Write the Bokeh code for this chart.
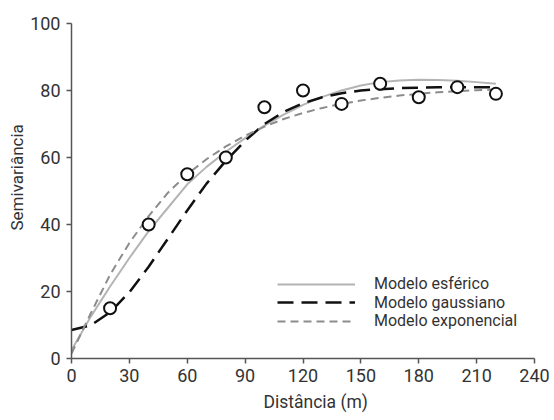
from bokeh.plotting import figure
from bokeh.models import Range1d, FixedTicker, Legend, LegendItem, Title
from bokeh.embed import file_html
from bokeh.resources import INLINE

# Observed semivariance
dist = [20, 40, 60, 80, 100, 120, 140, 160, 180, 200, 220]
semivar = [15, 40, 55, 60, 75, 80, 76, 82, 78, 81, 79]

# Model curves
curve_x = [0, 10, 20, 30, 40, 50, 60, 70, 80, 90, 100, 110, 120, 130, 140, 150,
           160, 170, 180, 190, 200, 210, 220]
spherical = [2.5, 12.5, 21.5, 30, 38, 45, 52, 57.2, 61.7, 65.8, 69.5, 72.8, 75.7,
             78.1, 80.0, 81.5, 82.5, 83.0, 83.2, 83.1, 82.9, 82.5, 82.0]
gaussian = [8.5, 9.9, 13.8, 19.8, 27.4, 35.8, 44.2, 52.2, 59.0, 65.0, 70.0, 73.6,
            76.2, 78.0, 79.2, 80.0, 80.4, 80.7, 80.8, 81.0, 81.0, 81.0, 81.0]
exponential = [1.5, 13.5, 25, 34.5, 42.5, 49.5, 55, 59.5, 63.3, 66.5, 69.2, 71.5,
               73.3, 74.8, 76, 77, 77.8, 78.5, 79, 79.5, 79.8, 80.1, 80.3]

x_ticks = [0, 30, 60, 90, 120, 150, 180, 210, 240]
y_ticks = [0, 20, 40, 60, 80, 100]
labels = ["Modelo esférico", "Modelo gaussiano", "Modelo exponencial"]
x_title = "Distância (m)"
y_title = "Semivariância"

FONT = "Roboto"
TXT = "#333333"

p = figure(width=554, height=420, output_backend="svg", toolbar_location=None,
           x_range=Range1d(0, 240), y_range=Range1d(0, 100),
           min_border_left=71, min_border_right=20, min_border_top=23,
           min_border_bottom=62)
p.outline_line_color = None
p.grid.visible = False
p.background_fill_color = "white"
p.border_fill_color = "white"

r_sph = p.line(curve_x, spherical, line_color="#b4b4b4", line_width=2)
r_gau = p.line(curve_x, gaussian, line_color="#111111", line_width=2.5, line_dash="16 8")
r_exp = p.line(curve_x, exponential, line_color="#8c8c8c", line_width=2, line_dash="8 5")
p.scatter(dist, semivar, marker="circle", size=12, fill_color="white",
          line_color="#111111", line_width=2)

for ax in (p.xaxis[0], p.yaxis[0]):
    ax.axis_line_color = "#555555"
    ax.axis_line_width = 1.5
    ax.major_tick_line_color = "#555555"
    ax.major_tick_line_width = 1.5
    ax.major_tick_out = 5
    ax.major_tick_in = 0
    ax.minor_tick_line_color = None
    ax.major_label_text_font = FONT
    ax.major_label_text_font_size = "18px"
    ax.major_label_text_color = TXT

p.xaxis[0].ticker = FixedTicker(ticks=x_ticks)
p.yaxis[0].ticker = FixedTicker(ticks=y_ticks)
p.xaxis[0].major_label_standoff = 5
p.yaxis[0].major_label_standoff = 6

# axis titles, placed slightly off-centre as in the reference
p.add_layout(Title(text=x_title, align="left", offset=192, standoff=10,
                   text_font=FONT, text_font_size="17.5px", text_font_style="normal",
                   text_color=TXT), "below")
p.add_layout(Title(text=y_title, align="left", offset=128, standoff=2,
                   text_font=FONT, text_font_size="17px", text_font_style="normal",
                   text_color=TXT), "left")

renderers = [r_sph, r_gau, r_exp]
row_bottoms = [64.1, 45.6, 27.1]
for lab, rend, yb in zip(labels, renderers, row_bottoms):
    lg = Legend(items=[LegendItem(label=lab, renderers=[rend])],
                location=(206, yb), glyph_width=78, glyph_height=20,
                label_height=20, label_standoff=19, spacing=0, padding=0,
                margin=0, border_line_color=None, background_fill_alpha=0,
                label_text_font=FONT, label_text_font_size="16px",
                label_text_color=TXT, label_text_baseline="middle")
    p.add_layout(lg, "center")

open("out.html", "w").write(file_html(p, INLINE))
